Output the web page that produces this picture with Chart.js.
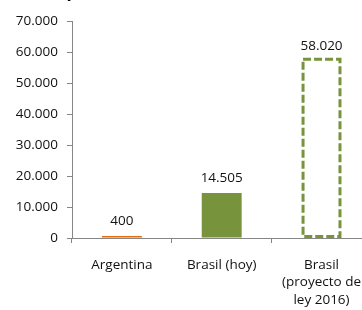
<!DOCTYPE html>
<html>
<head>
<meta charset="utf-8">
<script src="https://cdn.jsdelivr.net/npm/chart.js@4"></script>
<style>
  html, body { margin: 0; padding: 0; background: #fff; overflow: hidden; width: 362px; height: 310px; }
  #wrap { position: absolute; left: 0; top: -20px; width: 374px; height: 330px; }
</style>
</head>
<body>
<div id="wrap"><canvas id="myChart"></canvas></div>
<script>
"use strict";
const titleText = "Superficie cultivada (ha)";
const xLabels = ["Argentina", "Brasil (hoy)", ["Brasil", "(proyecto de", "ley 2016)"]];
const values = [400, 14505, 58020];
const barColors = [
    "#e46c0a", //argentina
    "#77933c", //brasil hoy
    "rgba(0,0,0,0)" //proyecto (dashed outline)
];
const yMax = 70000;
const yStep = 10000;
const textColor = "#111";
const axisColor = "#868686";
const font = { family: "'Open Sans', sans-serif", size: 13.5, lineHeight: 1.3 };

function fmt(v) {
    return String(Math.round(v)).replace(/\B(?=(\d{3})+(?!\d))/g, ".");
}

// title sits mostly above the visible window, like the cropped original
const titlePlugin = {
    id: "topTitle",
    afterDraw(chart) {
        const ctx = chart.ctx;
        ctx.save();
        ctx.font = "bold 17px 'Open Sans', sans-serif";
        ctx.fillStyle = "#000";
        ctx.textAlign = "left";
        ctx.textBaseline = "alphabetic";
        ctx.fillText(titleText, 46, 17);
        ctx.restore();
    }
};

// value labels + dashed outline for the projected bar
const barExtras = {
    id: "barExtras",
    afterDatasetsDraw(chart) {
        const ctx = chart.ctx;
        const meta = chart.getDatasetMeta(0);
        ctx.save();
        meta.data.forEach((bar, i) => {
            const p = bar.getProps(["x", "y", "base", "width"], true);
            if (i === 2) {
                ctx.strokeStyle = "#77933c";
                ctx.lineWidth = 3;
                ctx.setLineDash([8, 3]);
                ctx.strokeRect(p.x - p.width / 2 + 1.5, p.y + 1, p.width - 3, p.base - p.y - 2);
                ctx.setLineDash([]);
            }
            ctx.font = "13.5px 'Open Sans', sans-serif";
            ctx.fillStyle = textColor;
            ctx.textAlign = "center";
            ctx.textBaseline = "middle";
            ctx.fillText(fmt(values[i]), p.x, p.y - (i === 2 ? 12 : 15));
        });
        ctx.restore();
    }
};

const chart = new Chart("myChart", {
    type: "bar",
    data: {
        labels: xLabels,
        datasets: [{
            data: values,
            backgroundColor: barColors,
            borderWidth: 0,
            minBarLength: 2,
            barPercentage: 0.4,
            categoryPercentage: 1
        }]
    },
    options: {
        responsive: true,
        maintainAspectRatio: false,
        animation: false,
        layout: { padding: { top: 41, right: 0, left: 0, bottom: 0 } },
        plugins: { legend: { display: false }, tooltip: { enabled: false } },
        scales: {
            x: {
                grid: { drawOnChartArea: false, drawTicks: true, tickLength: 5, color: axisColor, offset: true },
                border: { color: axisColor, width: 1 },
                ticks: { color: textColor, font: font, padding: 13, maxRotation: 0, autoSkip: false },
                afterFit(scale) { scale.height = 72; }
            },
            y: {
                min: 0,
                max: yMax,
                grid: { drawOnChartArea: false, drawTicks: true, tickLength: 5, color: axisColor },
                border: { color: axisColor, width: 1 },
                ticks: { stepSize: yStep, color: textColor, font: font, padding: 9, callback: (v) => fmt(v) },
                afterFit(scale) { scale.width = 72; }
            }
        }
    },
    plugins: [titlePlugin, barExtras]
});
</script>
</body>
</html>
